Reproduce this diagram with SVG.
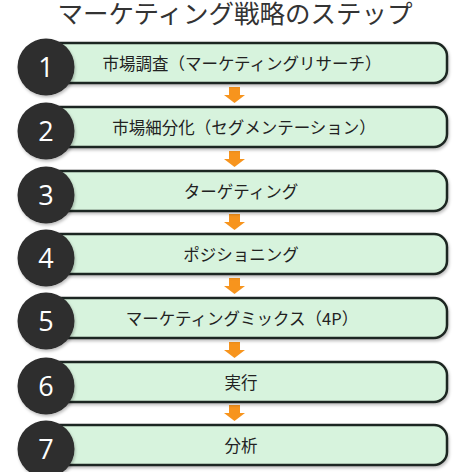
<svg xmlns="http://www.w3.org/2000/svg" width="472" height="472" viewBox="0 0 472 472">
<style>
.title{font-family:"Noto Sans CJK JP","Noto Sans",sans-serif;font-size:25.5px;fill:#333;}
.box{fill:#d7f3dd;stroke:#1e2620;stroke-width:2.5;}
.lbl{font-family:"Noto Sans CJK JP","Noto Sans",sans-serif;font-size:16.5px;fill:#222;text-anchor:middle;}
.circ{fill:#2d2d2d;}
.num{font-family:"Open Sans","Liberation Sans",sans-serif;font-size:27px;fill:#fff;text-anchor:middle;}
.arr{fill:#f7941d;}
</style>
<defs>
<filter id="sh" x="-10%" y="-10%" width="130%" height="140%">
<feDropShadow dx="1" dy="2" stdDeviation="1.5" flood-color="#000" flood-opacity="0.25"/>
</filter>
</defs>
<rect width="472" height="472" fill="#fff"/>
<text class="title" x="235" y="23" text-anchor="middle">マーケティング戦略のステップ</text>
<g id="connectors">
<path class="arr" d="M229,87h11v8h5l-10.5,8l-10.5,-8h5z"/>
<path class="arr" d="M229,151h11v8h5l-10.5,8l-10.5,-8h5z"/>
<path class="arr" d="M229,214h11v8h5l-10.5,8l-10.5,-8h5z"/>
<path class="arr" d="M229,278h11v8h5l-10.5,8l-10.5,-8h5z"/>
<path class="arr" d="M229,342h11v8h5l-10.5,8l-10.5,-8h5z"/>
<path class="arr" d="M229,405h11v8h5l-10.5,8l-10.5,-8h5z"/>
</g>
<g id="step1">
<rect class="box" x="37" y="43" width="410" height="40" rx="13" filter="url(#sh)"/>
<circle class="circ" cx="46" cy="67" r="28.5" filter="url(#sh)"/>
<text class="num" x="46" y="76.5">1</text>
<text class="lbl" x="242" y="69.5">市場調査（マーケティングリサーチ）</text>
</g>
<g id="step2">
<rect class="box" x="37" y="107" width="410" height="40" rx="13" filter="url(#sh)"/>
<circle class="circ" cx="46" cy="131" r="28.5" filter="url(#sh)"/>
<text class="num" x="46" y="140.5">2</text>
<text class="lbl" x="244" y="133.5">市場細分化（セグメンテーション）</text>
</g>
<g id="step3">
<rect class="box" x="37" y="171" width="410" height="40" rx="13" filter="url(#sh)"/>
<circle class="circ" cx="46" cy="195" r="28.5" filter="url(#sh)"/>
<text class="num" x="46" y="204.5">3</text>
<text class="lbl" x="241" y="197.5">ターゲティング</text>
</g>
<g id="step4">
<rect class="box" x="37" y="234" width="410" height="40" rx="13" filter="url(#sh)"/>
<circle class="circ" cx="46" cy="258" r="28.5" filter="url(#sh)"/>
<text class="num" x="46" y="267.5">4</text>
<text class="lbl" x="241" y="260.5">ポジショニング</text>
</g>
<g id="step5">
<rect class="box" x="37" y="298" width="410" height="40" rx="13" filter="url(#sh)"/>
<circle class="circ" cx="46" cy="321" r="28.5" filter="url(#sh)"/>
<text class="num" x="46" y="330.5">5</text>
<text class="lbl" x="242" y="324.5">マーケティングミックス（4P）</text>
</g>
<g id="step6">
<rect class="box" x="37" y="362" width="410" height="40" rx="13" filter="url(#sh)"/>
<circle class="circ" cx="46" cy="386" r="28.5" filter="url(#sh)"/>
<text class="num" x="46" y="395.5">6</text>
<text class="lbl" x="241" y="388.5">実行</text>
</g>
<g id="step7">
<rect class="box" x="37" y="425" width="410" height="40" rx="13" filter="url(#sh)"/>
<circle class="circ" cx="46" cy="449" r="28.5" filter="url(#sh)"/>
<text class="num" x="46" y="458.5">7</text>
<text class="lbl" x="241" y="451.5">分析</text>
</g>
</svg>
